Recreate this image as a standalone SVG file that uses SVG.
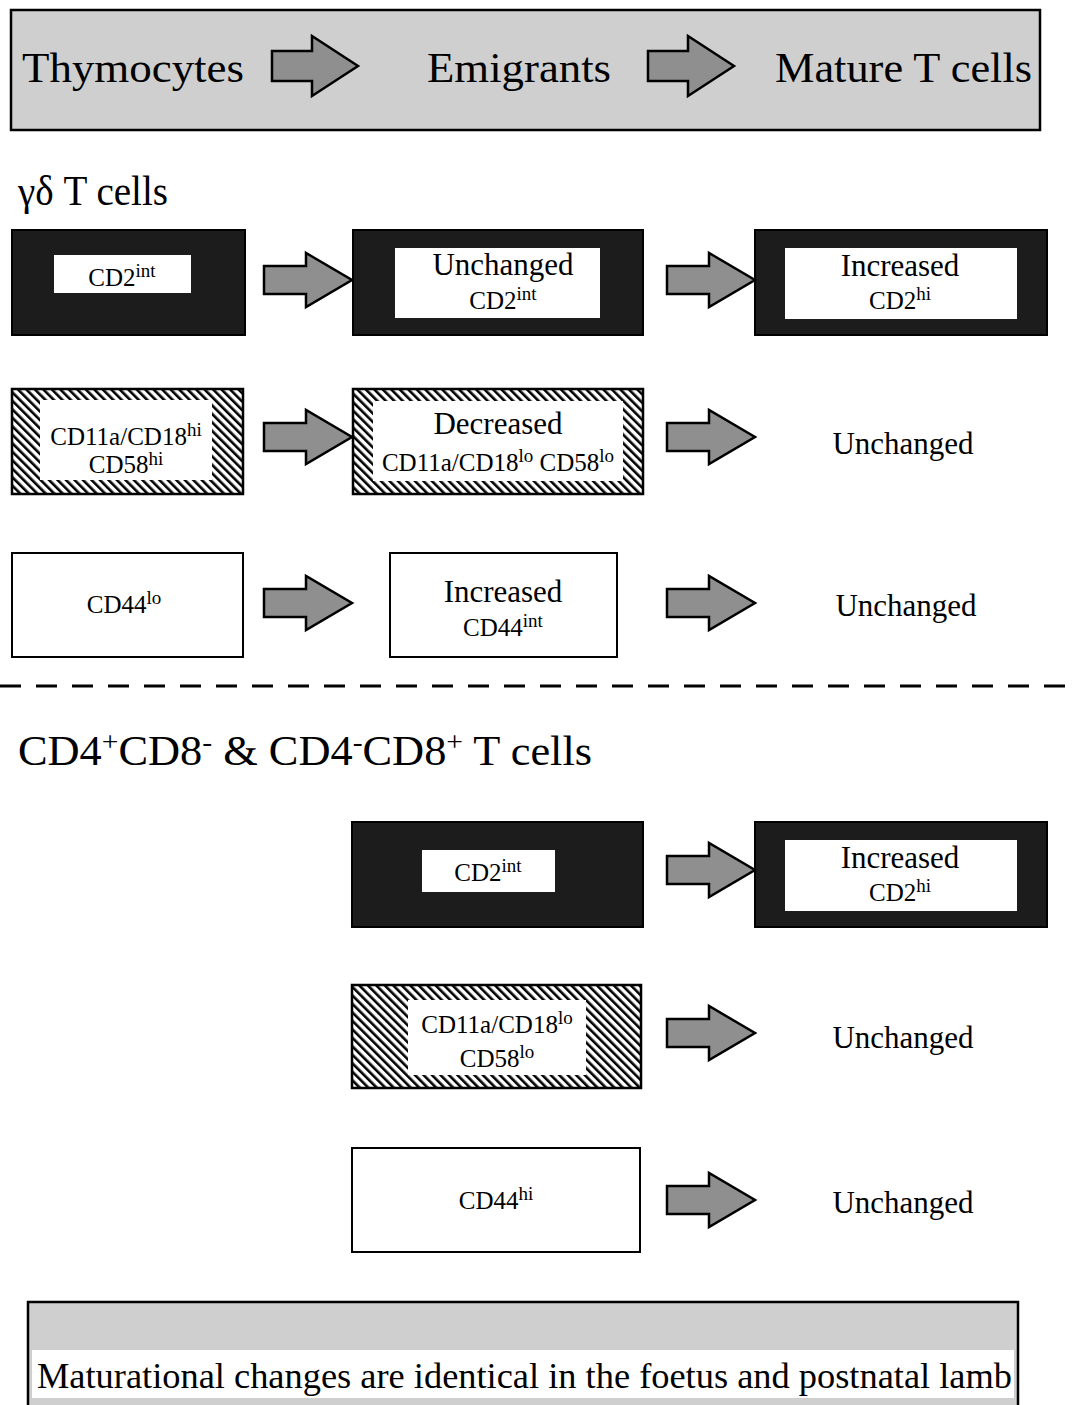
<svg xmlns="http://www.w3.org/2000/svg" width="1075" height="1405" viewBox="0 0 1075 1405">
<style>
text{font-family:"Liberation Serif","Times New Roman",serif;fill:#000}
.big{font-size:42px}
.mid{font-size:31px}
.sm{font-size:25px}
.sup{font-size:19px}
.banner{fill:#cfcfcf;stroke:#000;stroke-width:2.5}
.dark{fill:#1c1c1c;stroke:#000;stroke-width:2}
.white{fill:#fff;stroke:#000;stroke-width:2}
.inner{fill:#fff;stroke:none}
.hatch{fill:url(#hatch);stroke:#000;stroke-width:2.5}
.arr{fill:#8f8f8f;stroke:#000;stroke-width:2.5;stroke-linejoin:miter}
</style>
<defs>
<pattern id="hatch" width="6" height="6" patternUnits="userSpaceOnUse" patternTransform="rotate(-45)">
<rect width="6" height="6" fill="#fff"/>
<rect width="2.6" height="6" fill="#000"/>
</pattern>
<path id="arrow" d="M0,-14 H42 V-27 L88,0 L42,27 V14 H0 Z"/>
<path id="barrow" d="M0,-15 H40 V-30 L86,0 L40,30 V15 H0 Z"/>
</defs>
<rect width="1075" height="1405" fill="#fff"/>

<g id="top-banner">
<rect class="banner" x="11" y="10" width="1029" height="120"/>
<text class="big" x="22" y="82" textLength="222" lengthAdjust="spacingAndGlyphs">Thymocytes</text>
<text class="big" x="427" y="82" textLength="184" lengthAdjust="spacingAndGlyphs">Emigrants</text>
<text class="big" x="775" y="82" textLength="257" lengthAdjust="spacingAndGlyphs">Mature T cells</text>
</g>

<g id="heading-gd">
<text class="big" x="18" y="205" textLength="150" lengthAdjust="spacingAndGlyphs">γδ T cells</text>
</g>

<g id="gd-cd2-thymo">
<rect class="dark" x="12" y="230" width="233" height="105"/>
<rect class="inner" x="54" y="255" width="137" height="38"/>
<text class="sm" x="122" y="286" text-anchor="middle">CD2<tspan class="sup" dy="-9">int</tspan></text>
</g>
<g id="gd-cd2-emig">
<rect class="dark" x="353" y="230" width="290" height="105"/>
<rect class="inner" x="395" y="248" width="205" height="70"/>
<text class="mid" x="503" y="275" text-anchor="middle">Unchanged</text>
<text class="sm" x="503" y="309" text-anchor="middle">CD2<tspan class="sup" dy="-9">int</tspan></text>
</g>
<g id="gd-cd2-mature">
<rect class="dark" x="755" y="230" width="292" height="105"/>
<rect class="inner" x="785" y="248" width="232" height="71"/>
<text class="mid" x="900" y="276" text-anchor="middle">Increased</text>
<text class="sm" x="900" y="309" text-anchor="middle">CD2<tspan class="sup" dy="-9">hi</tspan></text>
</g>

<g id="gd-cd11-thymo">
<rect class="hatch" x="12" y="389" width="231" height="105"/>
<rect class="inner" x="40" y="400" width="172" height="80"/>
<text class="sm" x="126" y="445" text-anchor="middle">CD11a/CD18<tspan class="sup" dy="-9">hi</tspan></text>
<text class="sm" x="126" y="473" text-anchor="middle">CD58<tspan class="sup" dy="-8">hi</tspan></text>
</g>
<g id="gd-cd11-emig">
<rect class="hatch" x="353" y="389" width="290" height="105"/>
<rect class="inner" x="373" y="401" width="250" height="80"/>
<text class="mid" x="498" y="434" text-anchor="middle">Decreased</text>
<text class="sm" x="498" y="471" text-anchor="middle">CD11a/CD18<tspan class="sup" dy="-9">lo</tspan><tspan dy="9"> CD58</tspan><tspan class="sup" dy="-9">lo</tspan></text>
</g>
<g id="gd-cd11-mature">
<text class="mid" x="903" y="454" text-anchor="middle">Unchanged</text>
</g>

<g id="gd-cd44-thymo">
<rect class="white" x="12" y="553" width="231" height="104"/>
<text class="sm" x="124" y="613" text-anchor="middle">CD44<tspan class="sup" dy="-9">lo</tspan></text>
</g>
<g id="gd-cd44-emig">
<rect class="white" x="390" y="553" width="227" height="104"/>
<text class="mid" x="503" y="602" text-anchor="middle">Increased</text>
<text class="sm" x="503" y="636" text-anchor="middle">CD44<tspan class="sup" dy="-9">int</tspan></text>
</g>
<g id="gd-cd44-mature">
<text class="mid" x="906" y="616" text-anchor="middle">Unchanged</text>
</g>

<g id="divider">
<line x1="0" y1="686" x2="1075" y2="686" stroke="#000" stroke-width="3" stroke-dasharray="21,15"/>
</g>

<g id="heading-cd4cd8">
<text class="big" x="18" y="765" textLength="574" lengthAdjust="spacingAndGlyphs">CD4<tspan font-size="28" dy="-14">+</tspan><tspan dy="14">CD8</tspan><tspan font-size="28" dy="-14">-</tspan><tspan dy="14"> &amp; CD4</tspan><tspan font-size="28" dy="-14">-</tspan><tspan dy="14">CD8</tspan><tspan font-size="28" dy="-14">+</tspan><tspan dy="14"> T cells</tspan></text>
</g>

<g id="ab-cd2-emig">
<rect class="dark" x="352" y="822" width="291" height="105"/>
<rect class="inner" x="422" y="850" width="133" height="42"/>
<text class="sm" x="488" y="881" text-anchor="middle">CD2<tspan class="sup" dy="-9">int</tspan></text>
</g>
<g id="ab-cd2-mature">
<rect class="dark" x="755" y="822" width="292" height="105"/>
<rect class="inner" x="785" y="840" width="232" height="71"/>
<text class="mid" x="900" y="868" text-anchor="middle">Increased</text>
<text class="sm" x="900" y="901" text-anchor="middle">CD2<tspan class="sup" dy="-9">hi</tspan></text>
</g>

<g id="ab-cd11-emig">
<rect class="hatch" x="352" y="985" width="289" height="103"/>
<rect class="inner" x="408" y="1000" width="178" height="75"/>
<text class="sm" x="497" y="1033" text-anchor="middle">CD11a/CD18<tspan class="sup" dy="-9">lo</tspan></text>
<text class="sm" x="497" y="1067" text-anchor="middle">CD58<tspan class="sup" dy="-9">lo</tspan></text>
</g>
<g id="ab-cd11-mature">
<text class="mid" x="903" y="1048" text-anchor="middle">Unchanged</text>
</g>

<g id="ab-cd44-emig">
<rect class="white" x="352" y="1148" width="288" height="104"/>
<text class="sm" x="496" y="1209" text-anchor="middle">CD44<tspan class="sup" dy="-9">hi</tspan></text>
</g>
<g id="ab-cd44-mature">
<text class="mid" x="903" y="1213" text-anchor="middle">Unchanged</text>
</g>

<g id="bottom-banner">
<rect class="banner" x="28" y="1302" width="990" height="120"/>
<rect class="inner" x="32" y="1350" width="982" height="48"/>
<text x="37" y="1388" font-size="35" textLength="975" lengthAdjust="spacingAndGlyphs">Maturational changes are identical in the foetus and postnatal lamb</text>
</g>

<g id="connectors">
<use href="#barrow" class="arr" x="272" y="66"/>
<use href="#barrow" class="arr" x="648" y="66"/>
<use href="#arrow" class="arr" x="264" y="280"/>
<use href="#arrow" class="arr" x="667" y="280"/>
<use href="#arrow" class="arr" x="264" y="437"/>
<use href="#arrow" class="arr" x="667" y="437"/>
<use href="#arrow" class="arr" x="264" y="603"/>
<use href="#arrow" class="arr" x="667" y="603"/>
<use href="#arrow" class="arr" x="667" y="870"/>
<use href="#arrow" class="arr" x="667" y="1033"/>
<use href="#arrow" class="arr" x="667" y="1200"/>
</g>
</svg>
